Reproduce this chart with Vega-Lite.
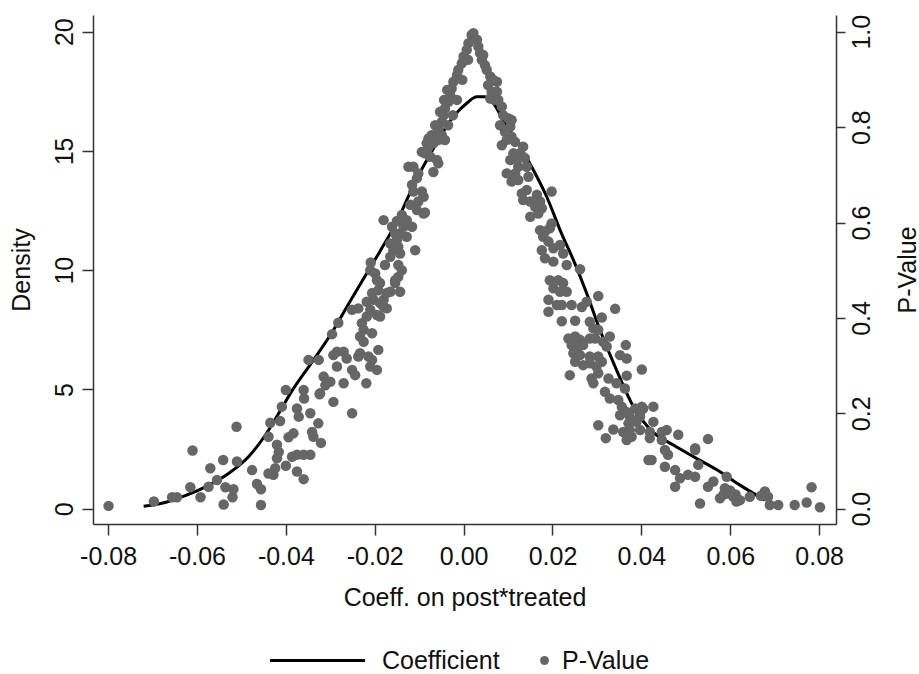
{
  "$schema": "https://vega.github.io/schema/vega-lite/v6.json",
  "width": 743,
  "height": 509,
  "autosize": {"type": "none"},
  "padding": {"left": 93, "top": 15, "right": 83, "bottom": 150},
  "background": "white",
  "config": {
    "view": {"stroke": null},
    "font": "Liberation Sans",
    "axis": {
      "domainColor": "#333333", "tickColor": "#333333", "domainWidth": 1.5, "tickWidth": 1.5,
      "labelColor": "#111111", "titleColor": "#111111",
      "labelFont": "Liberation Sans", "titleFont": "Liberation Sans",
      "labelFontSize": 25, "titleFontSize": 25, "titleFontWeight": "normal",
      "grid": false, "tickSize": 11
    },
    "legend": {"labelFont": "Liberation Sans", "labelFontSize": 25, "labelColor": "#111111"}
  },
  "datasets": {
    "curve": [
      {"coef": -0.0720, "density": 0.10}, {"coef": -0.0679, "density": 0.23}, {"coef": -0.0634, "density": 0.50},
      {"coef": -0.0581, "density": 0.92}, {"coef": -0.0529, "density": 1.48}, {"coef": -0.0484, "density": 2.18},
      {"coef": -0.0446, "density": 3.09}, {"coef": -0.0416, "density": 4.00}, {"coef": -0.0386, "density": 4.95},
      {"coef": -0.0338, "density": 6.23}, {"coef": -0.0296, "density": 7.40}, {"coef": -0.0260, "density": 8.55},
      {"coef": -0.0225, "density": 9.65}, {"coef": -0.0188, "density": 10.8}, {"coef": -0.0150, "density": 12.05},
      {"coef": -0.0113, "density": 13.55}, {"coef": -0.0068, "density": 15.1}, {"coef": -0.0023, "density": 16.44},
      {"coef": 0.0007, "density": 17.0}, {"coef": 0.0030, "density": 17.27}, {"coef": 0.0048, "density": 17.27},
      {"coef": 0.0067, "density": 17.0}, {"coef": 0.0089, "density": 16.3}, {"coef": 0.0123, "density": 15.32},
      {"coef": 0.0157, "density": 14.2}, {"coef": 0.0187, "density": 13.08}, {"coef": 0.0219, "density": 11.6},
      {"coef": 0.0250, "density": 10.3}, {"coef": 0.0277, "density": 9.03}, {"coef": 0.0307, "density": 7.49},
      {"coef": 0.0344, "density": 5.82}, {"coef": 0.0382, "density": 4.28}, {"coef": 0.0427, "density": 3.2},
      {"coef": 0.0472, "density": 2.67}, {"coef": 0.0524, "density": 2.11}, {"coef": 0.0577, "density": 1.55},
      {"coef": 0.0622, "density": 0.99}, {"coef": 0.0678, "density": 0.36}
    ],
    "pv": [
      {"coef": -0.0799, "pvalue": 0.006}, {"coef": -0.0697, "pvalue": 0.015}, {"coef": -0.0656, "pvalue": 0.024}, {"coef": -0.0645, "pvalue": 0.024},
      {"coef": -0.0615, "pvalue": 0.045}, {"coef": -0.0592, "pvalue": 0.024}, {"coef": -0.0610, "pvalue": 0.122}, {"coef": -0.0570, "pvalue": 0.085},
      {"coef": -0.0574, "pvalue": 0.046}, {"coef": -0.0555, "pvalue": 0.060}, {"coef": -0.0541, "pvalue": 0.102}, {"coef": -0.0536, "pvalue": 0.045},
      {"coef": -0.0518, "pvalue": 0.041}, {"coef": -0.0520, "pvalue": 0.024}, {"coef": -0.0540, "pvalue": 0.009}, {"coef": -0.0510, "pvalue": 0.099},
      {"coef": -0.0511, "pvalue": 0.172}, {"coef": -0.0476, "pvalue": 0.081}, {"coef": -0.0465, "pvalue": 0.052}, {"coef": -0.0456, "pvalue": 0.041},
      {"coef": -0.0456, "pvalue": 0.008}, {"coef": -0.0439, "pvalue": 0.074}, {"coef": -0.0428, "pvalue": 0.071}, {"coef": -0.0424, "pvalue": 0.085},
      {"coef": -0.0420, "pvalue": 0.106}, {"coef": -0.0420, "pvalue": 0.134}, {"coef": -0.0416, "pvalue": 0.119}, {"coef": -0.0439, "pvalue": 0.151},
      {"coef": -0.0400, "pvalue": 0.090}, {"coef": -0.0386, "pvalue": 0.109}, {"coef": -0.0394, "pvalue": 0.150}, {"coef": -0.0435, "pvalue": 0.180},
      {"coef": -0.0413, "pvalue": 0.184}, {"coef": -0.0409, "pvalue": 0.214}, {"coef": -0.0400, "pvalue": 0.249},
      {"coef": -0.0375, "pvalue": 0.113}, {"coef": -0.0360, "pvalue": 0.113}, {"coef": -0.0345, "pvalue": 0.113}, {"coef": -0.0383, "pvalue": 0.158},
      {"coef": -0.0341, "pvalue": 0.161}, {"coef": -0.0338, "pvalue": 0.151}, {"coef": -0.0327, "pvalue": 0.179}, {"coef": -0.0321, "pvalue": 0.138},
      {"coef": -0.0375, "pvalue": 0.078}, {"coef": -0.0360, "pvalue": 0.062}, {"coef": -0.0371, "pvalue": 0.193}, {"coef": -0.0345, "pvalue": 0.200},
      {"coef": -0.0375, "pvalue": 0.210}, {"coef": -0.0324, "pvalue": 0.240}, {"coef": -0.0359, "pvalue": 0.231}, {"coef": -0.0360, "pvalue": 0.249},
      {"coef": -0.0180, "pvalue": 0.605}, {"coef": -0.0161, "pvalue": 0.591}, {"coef": -0.0154, "pvalue": 0.577}, {"coef": -0.0150, "pvalue": 0.563},
      {"coef": -0.0147, "pvalue": 0.549}, {"coef": -0.0143, "pvalue": 0.535}, {"coef": -0.0165, "pvalue": 0.556}, {"coef": -0.0158, "pvalue": 0.542},
      {"coef": -0.0165, "pvalue": 0.528}, {"coef": -0.0209, "pvalue": 0.516}, {"coef": -0.0210, "pvalue": 0.500}, {"coef": -0.0199, "pvalue": 0.493},
      {"coef": -0.0195, "pvalue": 0.479}, {"coef": -0.0188, "pvalue": 0.473}, {"coef": -0.0192, "pvalue": 0.458}, {"coef": -0.0177, "pvalue": 0.511},
      {"coef": -0.0147, "pvalue": 0.511}, {"coef": -0.0139, "pvalue": 0.500}, {"coef": -0.0154, "pvalue": 0.479}, {"coef": -0.0147, "pvalue": 0.486},
      {"coef": -0.0165, "pvalue": 0.455}, {"coef": -0.0143, "pvalue": 0.455}, {"coef": -0.0206, "pvalue": 0.452}, {"coef": -0.0203, "pvalue": 0.438},
      {"coef": -0.0218, "pvalue": 0.434}, {"coef": -0.0188, "pvalue": 0.431}, {"coef": -0.0180, "pvalue": 0.423}, {"coef": -0.0173, "pvalue": 0.420},
      {"coef": -0.0210, "pvalue": 0.417}, {"coef": -0.0195, "pvalue": 0.406}, {"coef": -0.0188, "pvalue": 0.403}, {"coef": -0.0251, "pvalue": 0.417},
      {"coef": -0.0237, "pvalue": 0.420}, {"coef": -0.0282, "pvalue": 0.390}, {"coef": -0.0296, "pvalue": 0.366}, {"coef": -0.0229, "pvalue": 0.389},
      {"coef": -0.0225, "pvalue": 0.375}, {"coef": -0.0233, "pvalue": 0.361}, {"coef": -0.0225, "pvalue": 0.350}, {"coef": -0.0206, "pvalue": 0.368},
      {"coef": -0.0192, "pvalue": 0.333}, {"coef": -0.0233, "pvalue": 0.326}, {"coef": -0.0237, "pvalue": 0.319}, {"coef": -0.0214, "pvalue": 0.319},
      {"coef": -0.0206, "pvalue": 0.312}, {"coef": -0.0210, "pvalue": 0.298}, {"coef": -0.0195, "pvalue": 0.291}, {"coef": -0.0285, "pvalue": 0.329},
      {"coef": -0.0293, "pvalue": 0.322}, {"coef": -0.0270, "pvalue": 0.329}, {"coef": -0.0263, "pvalue": 0.315}, {"coef": -0.0285, "pvalue": 0.298},
      {"coef": -0.0251, "pvalue": 0.291}, {"coef": -0.0244, "pvalue": 0.280}, {"coef": -0.0349, "pvalue": 0.312}, {"coef": -0.0326, "pvalue": 0.312},
      {"coef": -0.0315, "pvalue": 0.277}, {"coef": -0.0300, "pvalue": 0.266}, {"coef": -0.0311, "pvalue": 0.259}, {"coef": -0.0323, "pvalue": 0.242},
      {"coef": -0.0270, "pvalue": 0.263}, {"coef": -0.0293, "pvalue": 0.224}, {"coef": -0.0219, "pvalue": 0.263}, {"coef": -0.0251, "pvalue": 0.200},
      {"coef": -0.0218, "pvalue": 0.403}, {"coef": -0.0180, "pvalue": 0.438}, {"coef": -0.0173, "pvalue": 0.452}, {"coef": -0.0154, "pvalue": 0.473},
      {"coef": 0.0018, "pvalue": 0.993}, {"coef": 0.0011, "pvalue": 0.976}, {"coef": 0.0007, "pvalue": 0.962}, {"coef": 0.0000, "pvalue": 0.948},
      {"coef": -0.0004, "pvalue": 0.934}, {"coef": -0.0012, "pvalue": 0.920}, {"coef": -0.0015, "pvalue": 0.909}, {"coef": -0.0023, "pvalue": 0.895},
      {"coef": -0.0027, "pvalue": 0.881}, {"coef": -0.0030, "pvalue": 0.867}, {"coef": -0.0034, "pvalue": 0.853}, {"coef": -0.0042, "pvalue": 0.839},
      {"coef": -0.0045, "pvalue": 0.825}, {"coef": -0.0049, "pvalue": 0.811}, {"coef": -0.0057, "pvalue": 0.797}, {"coef": -0.0060, "pvalue": 0.787},
      {"coef": -0.0072, "pvalue": 0.783}, {"coef": -0.0079, "pvalue": 0.776}, {"coef": -0.0083, "pvalue": 0.766}, {"coef": -0.0068, "pvalue": 0.766},
      {"coef": -0.0057, "pvalue": 0.773}, {"coef": -0.0049, "pvalue": 0.783}, {"coef": -0.0094, "pvalue": 0.748}, {"coef": -0.0087, "pvalue": 0.745},
      {"coef": -0.0075, "pvalue": 0.738}, {"coef": -0.0060, "pvalue": 0.731}, {"coef": -0.0057, "pvalue": 0.724}, {"coef": -0.0068, "pvalue": 0.706},
      {"coef": -0.0113, "pvalue": 0.717}, {"coef": -0.0124, "pvalue": 0.717}, {"coef": -0.0102, "pvalue": 0.703}, {"coef": -0.0105, "pvalue": 0.693},
      {"coef": -0.0116, "pvalue": 0.679}, {"coef": -0.0113, "pvalue": 0.665}, {"coef": -0.0094, "pvalue": 0.665}, {"coef": -0.0090, "pvalue": 0.654},
      {"coef": -0.0102, "pvalue": 0.644}, {"coef": -0.0139, "pvalue": 0.616}, {"coef": -0.0128, "pvalue": 0.605}, {"coef": -0.0135, "pvalue": 0.591},
      {"coef": -0.0116, "pvalue": 0.591}, {"coef": -0.0105, "pvalue": 0.626}, {"coef": -0.0087, "pvalue": 0.621}, {"coef": -0.0143, "pvalue": 0.577},
      {"coef": -0.0128, "pvalue": 0.570}, {"coef": 0.0010, "pvalue": 0.941}, {"coef": -0.0003, "pvalue": 0.899}, {"coef": -0.0015, "pvalue": 0.857},
      {"coef": -0.0024, "pvalue": 0.825}, {"coef": -0.0035, "pvalue": 0.804}, {"coef": -0.0042, "pvalue": 0.773}, {"coef": -0.0037, "pvalue": 0.878},
      {"coef": -0.0044, "pvalue": 0.857}, {"coef": -0.0053, "pvalue": 0.832}, {"coef": -0.0064, "pvalue": 0.804}, {"coef": -0.0080, "pvalue": 0.756},
      {"coef": -0.0120, "pvalue": 0.637}, {"coef": -0.0150, "pvalue": 0.603}, {"coef": -0.0109, "pvalue": 0.542}, {"coef": -0.0090, "pvalue": 0.619},
      {"coef": 0.0022, "pvalue": 0.997}, {"coef": 0.0030, "pvalue": 0.983}, {"coef": 0.0033, "pvalue": 0.969}, {"coef": 0.0037, "pvalue": 0.955},
      {"coef": 0.0041, "pvalue": 0.941}, {"coef": 0.0048, "pvalue": 0.930}, {"coef": 0.0052, "pvalue": 0.920}, {"coef": 0.0060, "pvalue": 0.906},
      {"coef": 0.0067, "pvalue": 0.899}, {"coef": 0.0075, "pvalue": 0.895}, {"coef": 0.0044, "pvalue": 0.951}, {"coef": 0.0063, "pvalue": 0.874},
      {"coef": 0.0075, "pvalue": 0.874}, {"coef": 0.0078, "pvalue": 0.857}, {"coef": 0.0060, "pvalue": 0.860}, {"coef": 0.0086, "pvalue": 0.843},
      {"coef": 0.0101, "pvalue": 0.818}, {"coef": 0.0108, "pvalue": 0.815}, {"coef": 0.0105, "pvalue": 0.801}, {"coef": 0.0082, "pvalue": 0.804},
      {"coef": 0.0093, "pvalue": 0.790}, {"coef": 0.0108, "pvalue": 0.780}, {"coef": 0.0097, "pvalue": 0.773}, {"coef": 0.0086, "pvalue": 0.762},
      {"coef": 0.0116, "pvalue": 0.769}, {"coef": 0.0134, "pvalue": 0.759}, {"coef": 0.0127, "pvalue": 0.745}, {"coef": 0.0112, "pvalue": 0.745},
      {"coef": 0.0105, "pvalue": 0.731}, {"coef": 0.0120, "pvalue": 0.731}, {"coef": 0.0138, "pvalue": 0.735}, {"coef": 0.0142, "pvalue": 0.717},
      {"coef": 0.0123, "pvalue": 0.717}, {"coef": 0.0116, "pvalue": 0.703}, {"coef": 0.0097, "pvalue": 0.703}, {"coef": 0.0108, "pvalue": 0.686},
      {"coef": 0.0123, "pvalue": 0.689}, {"coef": 0.0146, "pvalue": 0.696}, {"coef": 0.0142, "pvalue": 0.668}, {"coef": 0.0131, "pvalue": 0.661},
      {"coef": 0.0134, "pvalue": 0.647}, {"coef": 0.0150, "pvalue": 0.644}, {"coef": 0.0165, "pvalue": 0.658}, {"coef": 0.0172, "pvalue": 0.644},
      {"coef": 0.0161, "pvalue": 0.633}, {"coef": 0.0176, "pvalue": 0.630}, {"coef": 0.0150, "pvalue": 0.612}, {"coef": 0.0168, "pvalue": 0.619},
      {"coef": 0.0198, "pvalue": 0.665}, {"coef": 0.0172, "pvalue": 0.584}, {"coef": 0.0183, "pvalue": 0.581}, {"coef": 0.0194, "pvalue": 0.588},
      {"coef": 0.0198, "pvalue": 0.598}, {"coef": 0.0055, "pvalue": 0.888}, {"coef": 0.0069, "pvalue": 0.857}, {"coef": 0.0089, "pvalue": 0.825},
      {"coef": 0.0179, "pvalue": 0.570}, {"coef": 0.0191, "pvalue": 0.560}, {"coef": 0.0202, "pvalue": 0.546}, {"coef": 0.0217, "pvalue": 0.553},
      {"coef": 0.0224, "pvalue": 0.535}, {"coef": 0.0202, "pvalue": 0.518}, {"coef": 0.0183, "pvalue": 0.525}, {"coef": 0.0176, "pvalue": 0.542},
      {"coef": 0.0232, "pvalue": 0.511}, {"coef": 0.0262, "pvalue": 0.502}, {"coef": 0.0194, "pvalue": 0.479}, {"coef": 0.0213, "pvalue": 0.479},
      {"coef": 0.0224, "pvalue": 0.473}, {"coef": 0.0202, "pvalue": 0.462}, {"coef": 0.0217, "pvalue": 0.455}, {"coef": 0.0232, "pvalue": 0.455},
      {"coef": 0.0191, "pvalue": 0.438}, {"coef": 0.0210, "pvalue": 0.427}, {"coef": 0.0221, "pvalue": 0.427}, {"coef": 0.0243, "pvalue": 0.427},
      {"coef": 0.0266, "pvalue": 0.423}, {"coef": 0.0277, "pvalue": 0.434}, {"coef": 0.0303, "pvalue": 0.446}, {"coef": 0.0191, "pvalue": 0.413},
      {"coef": 0.0341, "pvalue": 0.419}, {"coef": 0.0221, "pvalue": 0.393}, {"coef": 0.0251, "pvalue": 0.394}, {"coef": 0.0284, "pvalue": 0.392},
      {"coef": 0.0311, "pvalue": 0.401}, {"coef": 0.0292, "pvalue": 0.378}, {"coef": 0.0303, "pvalue": 0.375}, {"coef": 0.0236, "pvalue": 0.357},
      {"coef": 0.0251, "pvalue": 0.361}, {"coef": 0.0262, "pvalue": 0.354}, {"coef": 0.0243, "pvalue": 0.343}, {"coef": 0.0258, "pvalue": 0.340},
      {"coef": 0.0269, "pvalue": 0.343}, {"coef": 0.0284, "pvalue": 0.357}, {"coef": 0.0296, "pvalue": 0.357}, {"coef": 0.0314, "pvalue": 0.350},
      {"coef": 0.0329, "pvalue": 0.361}, {"coef": 0.0247, "pvalue": 0.326}, {"coef": 0.0262, "pvalue": 0.322}, {"coef": 0.0284, "pvalue": 0.319},
      {"coef": 0.0303, "pvalue": 0.319}, {"coef": 0.0322, "pvalue": 0.340}, {"coef": 0.0352, "pvalue": 0.322}, {"coef": 0.0367, "pvalue": 0.315},
      {"coef": 0.0365, "pvalue": 0.343}, {"coef": 0.0251, "pvalue": 0.308}, {"coef": 0.0269, "pvalue": 0.301}, {"coef": 0.0284, "pvalue": 0.305},
      {"coef": 0.0299, "pvalue": 0.298}, {"coef": 0.0311, "pvalue": 0.308}, {"coef": 0.0303, "pvalue": 0.284}, {"coef": 0.0288, "pvalue": 0.273},
      {"coef": 0.0239, "pvalue": 0.280}, {"coef": 0.0292, "pvalue": 0.263}, {"coef": 0.0326, "pvalue": 0.273}, {"coef": 0.0344, "pvalue": 0.263},
      {"coef": 0.0367, "pvalue": 0.279}, {"coef": 0.0363, "pvalue": 0.252}, {"coef": 0.0401, "pvalue": 0.292}, {"coef": 0.0318, "pvalue": 0.245},
      {"coef": 0.0329, "pvalue": 0.231}, {"coef": 0.0348, "pvalue": 0.228}, {"coef": 0.0356, "pvalue": 0.214}, {"coef": 0.0367, "pvalue": 0.203},
      {"coef": 0.0386, "pvalue": 0.210}, {"coef": 0.0401, "pvalue": 0.214}, {"coef": 0.0427, "pvalue": 0.214}, {"coef": 0.0374, "pvalue": 0.193},
      {"coef": 0.0352, "pvalue": 0.196}, {"coef": 0.0371, "pvalue": 0.179}, {"coef": 0.0389, "pvalue": 0.182}, {"coef": 0.0397, "pvalue": 0.193},
      {"coef": 0.0427, "pvalue": 0.182}, {"coef": 0.0303, "pvalue": 0.175}, {"coef": 0.0337, "pvalue": 0.166}, {"coef": 0.0359, "pvalue": 0.161},
      {"coef": 0.0374, "pvalue": 0.165}, {"coef": 0.0397, "pvalue": 0.165}, {"coef": 0.0419, "pvalue": 0.161}, {"coef": 0.0457, "pvalue": 0.165},
      {"coef": 0.0320, "pvalue": 0.148}, {"coef": 0.0367, "pvalue": 0.144}, {"coef": 0.0378, "pvalue": 0.151},
      {"coef": 0.0404, "pvalue": 0.210}, {"coef": 0.0397, "pvalue": 0.200}, {"coef": 0.0419, "pvalue": 0.148}, {"coef": 0.0446, "pvalue": 0.161},
      {"coef": 0.0483, "pvalue": 0.155}, {"coef": 0.0550, "pvalue": 0.146}, {"coef": 0.0453, "pvalue": 0.123}, {"coef": 0.0460, "pvalue": 0.113},
      {"coef": 0.0423, "pvalue": 0.102}, {"coef": 0.0453, "pvalue": 0.088}, {"coef": 0.0476, "pvalue": 0.081}, {"coef": 0.0487, "pvalue": 0.064},
      {"coef": 0.0505, "pvalue": 0.071}, {"coef": 0.0521, "pvalue": 0.067}, {"coef": 0.0521, "pvalue": 0.127}, {"coef": 0.0528, "pvalue": 0.092},
      {"coef": 0.0476, "pvalue": 0.046}, {"coef": 0.0550, "pvalue": 0.046}, {"coef": 0.0562, "pvalue": 0.057}, {"coef": 0.0592, "pvalue": 0.067},
      {"coef": 0.0588, "pvalue": 0.043}, {"coef": 0.0595, "pvalue": 0.032}, {"coef": 0.0577, "pvalue": 0.022}, {"coef": 0.0607, "pvalue": 0.025},
      {"coef": 0.0622, "pvalue": 0.018}, {"coef": 0.0644, "pvalue": 0.025}, {"coef": 0.0532, "pvalue": 0.011}, {"coef": 0.0678, "pvalue": 0.036},
      {"coef": 0.0685, "pvalue": 0.025}, {"coef": 0.0689, "pvalue": 0.008}, {"coef": 0.0708, "pvalue": 0.008}, {"coef": 0.0745, "pvalue": 0.008},
      {"coef": 0.0772, "pvalue": 0.013}, {"coef": 0.0783, "pvalue": 0.045}, {"coef": 0.0802, "pvalue": 0.003}, {"coef": 0.0416, "pvalue": 0.102},
      {"coef": 0.0446, "pvalue": 0.144}, {"coef": 0.0521, "pvalue": 0.123}, {"coef": 0.0614, "pvalue": 0.015}, {"coef": 0.0669, "pvalue": 0.027},
      {"coef": 0.0600, "pvalue": 0.038}, {"coef": 0.0585, "pvalue": 0.030}, {"coef": 0.0612, "pvalue": 0.030}
    ]
  },
  "layer": [
    {
      "data": {"name": "curve"},
      "mark": {"type": "line", "color": "#000000", "strokeWidth": 3, "interpolate": "monotone"},
      "encoding": {
        "x": {
          "field": "coef", "type": "quantitative",
          "scale": {"domain": [-0.0834, 0.0838], "nice": false, "zero": false},
          "axis": {
            "title": "Coeff. on post*treated",
            "values": [-0.08, -0.06, -0.04, -0.02, 0, 0.02, 0.04, 0.06, 0.08],
            "labelExpr": "replace(format(datum.value, '.2f'), '\u2212', '-')",
            "labelPadding": 9, "titlePadding": 16, "labelFlush": false, "labelOverlap": false
          }
        },
        "y": {
          "field": "density", "type": "quantitative",
          "scale": {"domain": [-0.64, 20.7], "nice": false, "zero": false},
          "axis": {
            "orient": "left", "title": "Density", "values": [0, 5, 10, 15, 20],
            "labelAngle": 270, "labelAlign": "center", "labelBaseline": "bottom", "labelPadding": 5,
            "titleAngle": 270, "titleBaseline": "bottom", "titlePadding": 18
          }
        },
        "color": {
          "datum": "Coefficient", "type": "nominal",
          "scale": {"domain": ["Coefficient"], "range": ["#000000"]},
          "legend": {
            "orient": "none", "legendX": 212, "legendY": 633, "title": null,
            "symbolType": "M-9.5,0H9.5", "symbolSize": 100, "symbolStrokeWidth": 3,
            "symbolStrokeColor": "#000000",
            "labelOffset": 52
          }
        }
      }
    },
    {
      "data": {"name": "pv"},
      "mark": {"type": "point", "filled": true, "size": 110, "opacity": 1},
      "encoding": {
        "x": {
          "field": "coef", "type": "quantitative",
          "scale": {"domain": [-0.0834, 0.0838], "nice": false, "zero": false},
          "axis": {
            "title": "Coeff. on post*treated",
            "values": [-0.08, -0.06, -0.04, -0.02, 0, 0.02, 0.04, 0.06, 0.08],
            "labelExpr": "replace(format(datum.value, '.2f'), '\u2212', '-')",
            "labelPadding": 9, "titlePadding": 16, "labelFlush": false, "labelOverlap": false
          }
        },
        "y": {
          "field": "pvalue", "type": "quantitative",
          "scale": {"domain": [-0.032, 1.035], "nice": false, "zero": false},
          "axis": {
            "orient": "right", "title": "P-Value", "values": [0, 0.2, 0.4, 0.6, 0.8, 1.0], "format": ".1f",
            "tickSize": 9,
            "labelAngle": 270, "labelAlign": "center", "labelBaseline": "top", "labelPadding": 4,
            "titleAngle": 270, "titleBaseline": "top", "titlePadding": 21
          }
        },
        "color": {
          "datum": "P-Value", "type": "nominal",
          "scale": {"domain": ["P-Value"], "range": ["#666666"]},
          "legend": {
            "orient": "none", "legendX": 439, "legendY": 633, "title": null,
            "symbolType": "circle", "symbolSize": 80, "labelOffset": 5
          }
        }
      }
    }
  ],
  "resolve": {"scale": {"y": "independent", "color": "independent"}}
}
